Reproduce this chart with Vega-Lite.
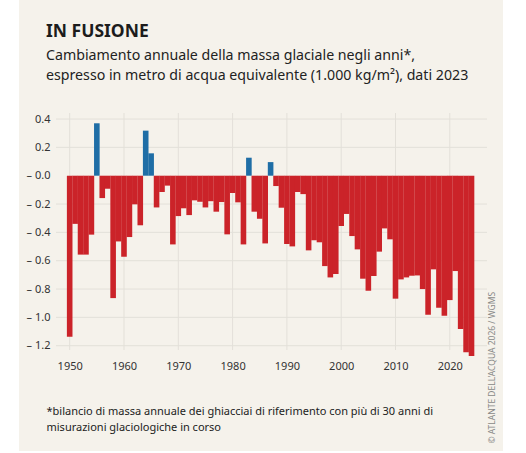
{
  "$schema": "https://vega.github.io/schema/vega-lite/v6.json",
  "width": 431,
  "height": 237,
  "autosize": "none",
  "padding": {"left": 56, "top": 113, "right": 39, "bottom": 103},
  "background": "#ffffff",
  "config": {"view": {"stroke": null}, "font": "Noto Sans"},
  "title": {
    "text": "IN FUSIONE",
    "subtitle": ["Cambiamento annuale della massa glaciale negli anni*,", "espresso in metro di acqua equivalente (1.000 kg/m²), dati 2023"],
    "anchor": "start",
    "frame": "group",
    "dx": -10,
    "offset": -83,
    "font": "Noto Sans",
    "fontSize": 17.5,
    "fontWeight": "bold",
    "color": "#1c1c1c",
    "subtitleFont": "Noto Sans",
    "subtitleFontSize": 14.2,
    "subtitleColor": "#222222",
    "subtitleLineHeight": 20,
    "subtitlePadding": 8
  },
  "data": {
    "values": [
      {"anno": 1950, "massa": -1.137}, {"anno": 1951, "massa": -0.34}, {"anno": 1952, "massa": -0.557},
      {"anno": 1953, "massa": -0.557}, {"anno": 1954, "massa": -0.416}, {"anno": 1955, "massa": 0.37},
      {"anno": 1956, "massa": -0.158}, {"anno": 1957, "massa": -0.092}, {"anno": 1958, "massa": -0.864},
      {"anno": 1959, "massa": -0.464}, {"anno": 1960, "massa": -0.572}, {"anno": 1961, "massa": -0.433},
      {"anno": 1962, "massa": -0.202}, {"anno": 1963, "massa": -0.35}, {"anno": 1964, "massa": 0.318},
      {"anno": 1965, "massa": 0.158}, {"anno": 1966, "massa": -0.224}, {"anno": 1967, "massa": -0.115},
      {"anno": 1968, "massa": -0.07}, {"anno": 1969, "massa": -0.485}, {"anno": 1970, "massa": -0.285},
      {"anno": 1971, "massa": -0.23}, {"anno": 1972, "massa": -0.278}, {"anno": 1973, "massa": -0.174},
      {"anno": 1974, "massa": -0.184}, {"anno": 1975, "massa": -0.224}, {"anno": 1976, "massa": -0.18},
      {"anno": 1977, "massa": -0.254}, {"anno": 1978, "massa": -0.186}, {"anno": 1979, "massa": -0.414},
      {"anno": 1980, "massa": -0.122}, {"anno": 1981, "massa": -0.188}, {"anno": 1982, "massa": -0.485},
      {"anno": 1983, "massa": 0.127}, {"anno": 1984, "massa": -0.254}, {"anno": 1985, "massa": -0.304},
      {"anno": 1986, "massa": -0.478}, {"anno": 1987, "massa": 0.096}, {"anno": 1988, "massa": -0.073},
      {"anno": 1989, "massa": -0.226}, {"anno": 1990, "massa": -0.482}, {"anno": 1991, "massa": -0.499},
      {"anno": 1992, "massa": -0.115}, {"anno": 1993, "massa": -0.13}, {"anno": 1994, "massa": -0.527},
      {"anno": 1995, "massa": -0.456}, {"anno": 1996, "massa": -0.47}, {"anno": 1997, "massa": -0.638},
      {"anno": 1998, "massa": -0.718}, {"anno": 1999, "massa": -0.694}, {"anno": 2000, "massa": -0.355},
      {"anno": 2001, "massa": -0.27}, {"anno": 2002, "massa": -0.426}, {"anno": 2003, "massa": -0.52},
      {"anno": 2004, "massa": -0.727}, {"anno": 2005, "massa": -0.812}, {"anno": 2006, "massa": -0.708},
      {"anno": 2007, "massa": -0.536}, {"anno": 2008, "massa": -0.372}, {"anno": 2009, "massa": -0.449},
      {"anno": 2010, "massa": -0.868}, {"anno": 2011, "massa": -0.732}, {"anno": 2012, "massa": -0.718},
      {"anno": 2013, "massa": -0.706}, {"anno": 2014, "massa": -0.704}, {"anno": 2015, "massa": -0.8},
      {"anno": 2016, "massa": -0.981}, {"anno": 2017, "massa": -0.661}, {"anno": 2018, "massa": -0.932},
      {"anno": 2019, "massa": -0.988}, {"anno": 2020, "massa": -0.878}, {"anno": 2021, "massa": -0.673},
      {"anno": 2022, "massa": -1.082}, {"anno": 2023, "massa": -1.247}, {"anno": 2024, "massa": -1.273}
    ]
  },
  "resolve": {"axis": {"y": "independent"}},
  "layer": [
    {
      "data": {"values": [{}]},
      "mark": {"type": "rect", "color": "#f5f2eb"},
      "encoding": {
        "x": {
          "datum": 1940.66,
          "type": "quantitative",
          "scale": {"domain": [1947.48, 2026.85], "nice": false, "zero": false, "padding": 0},
          "axis": {
            "zindex": 1,
            "values": [1950, 1960, 1970, 1980, 1990, 2000, 2010, 2020],
            "format": "d",
            "grid": false,
            "domain": false,
            "ticks": false,
            "labelPadding": 10,
            "labelFontSize": 11,
            "labelColor": "#333333",
            "title": ["*bilancio di massa annuale dei ghiacciai di riferimento con più di 30 anni di", "misurazioni glaciologiche in corso"],
            "titleFontSize": 11,
            "titleFontWeight": "normal",
            "titleColor": "#222222",
            "titleAlign": "left",
            "titleBaseline": "alphabetic",
            "titleLineHeight": 16,
            "titleX": -10,
            "titleY": 64
          }
        },
        "x2": {"datum": 2029.79},
        "y": {"datum": 1.24, "type": "quantitative", "scale": {"domain": [-1.2303, 0.4426], "nice": false, "padding": 0}, "axis": null},
        "y2": {"datum": -1.943}
      }
    },
    {
      "data": {"values": [{"tacca": 0.4}, {"tacca": 0.2}, {"tacca": -0.2}, {"tacca": -0.4}, {"tacca": -0.6}, {"tacca": -0.8}, {"tacca": -1.0}, {"tacca": -1.2}]},
      "mark": {"type": "rule", "color": "#e3e0d9", "strokeWidth": 1},
      "encoding": {"y": {"field": "tacca", "type": "quantitative", "axis": null}}
    },
    {
      "data": {"values": [{"tacca": 1950}, {"tacca": 1960}, {"tacca": 1970}, {"tacca": 1980}, {"tacca": 1990}, {"tacca": 2000}, {"tacca": 2010}, {"tacca": 2020}]},
      "mark": {"type": "rule", "color": "#e3e0d9", "strokeWidth": 1},
      "encoding": {"x": {"field": "tacca", "type": "quantitative"}}
    },
    {
      "mark": {"type": "bar", "width": 5.6},
      "encoding": {
        "x": {"field": "anno", "type": "quantitative"},
        "y": {
          "field": "massa",
          "type": "quantitative",
          "axis": {
            "zindex": 1,
            "values": [0.4, 0.2, 0, -0.2, -0.4, -0.6, -0.8, -1.0, -1.2],
            "labelExpr": "datum.value <= 0 ? '– ' + format(abs(datum.value), '.1f') : format(datum.value, '.1f')",
            "grid": false,
            "domain": false,
            "ticks": false,
            "labelPadding": 6,
            "labelFontSize": 11,
            "labelColor": "#333333",
            "title": null
          }
        },
        "color": {"condition": {"test": "datum.massa > 0", "value": "#1f6ea6"}, "value": "#cb2329"}
      }
    },
    {
      "data": {"values": [{}]},
      "mark": {"type": "rule", "opacity": 0},
      "encoding": {
        "y": {
          "datum": 0,
          "type": "quantitative",
          "axis": {
            "zindex": 1,
            "orient": "right",
            "labels": false,
            "grid": false,
            "domain": false,
            "ticks": false,
            "title": "© ATLANTE DELL'ACQUA 2026 / WGMS",
            "titleFontSize": 8.5,
            "titleFontWeight": "normal",
            "titleColor": "#8a8a88",
            "titleAngle": -90,
            "titleAlign": "left",
            "titleBaseline": "middle",
            "titleX": 4,
            "titleY": 330
          }
        }
      }
    }
  ]
}
